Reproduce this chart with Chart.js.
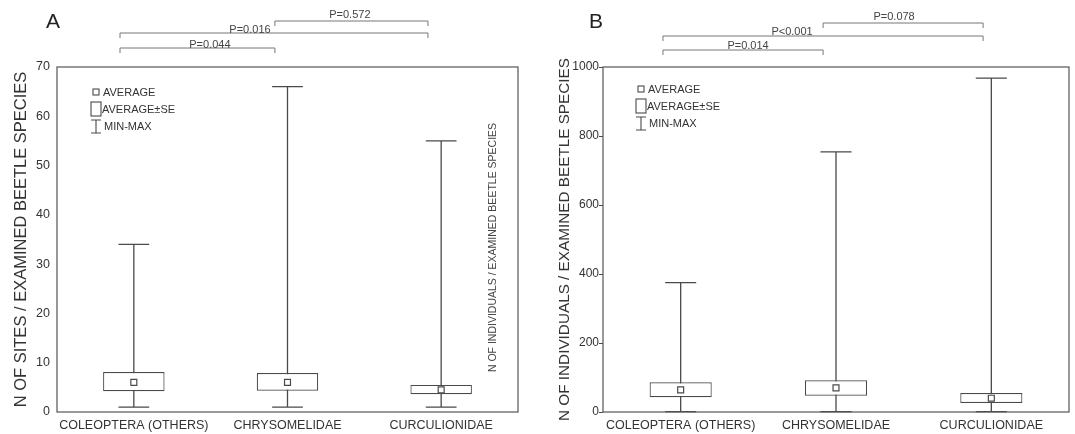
<!DOCTYPE html>
<html>
<head>
<meta charset="utf-8">
<script src="https://cdn.jsdelivr.net/npm/chart.js@4.4.0/dist/chart.umd.min.js"></script>
<style>
  html, body { margin: 0; padding: 0; background: #fff; }
  #wrap { position: relative; width: 1075px; height: 434px; }
  .panel { position: absolute; top: 0; height: 434px; }
  #panelA { left: 0; width: 540px; }
  #panelB { left: 540px; width: 535px; }
</style>
</head>
<body>
<div id="wrap">
  <div class="panel" id="panelA"><canvas id="chartA"></canvas></div>
  <div class="panel" id="panelB"><canvas id="chartB"></canvas></div>
</div>
<script>
const categories = ["COLEOPTERA (OTHERS)", "CHRYSOMELIDAE", "CURCULIONIDAE"];

// A: N of sites / examined beetle species
const sitesMean = [6.0, 6.0, 4.5];
const sitesSeLow = [4.2, 4.3, 3.6];
const sitesSeHigh = [8.1, 7.9, 5.5];
const sitesMin = [1, 1, 1];
const sitesMax = [34, 66, 55];
const sitesPLabels = ["P=0.044", "P=0.016", "P=0.572"];

// B: N of individuals / examined beetle species
const indivMean = [64, 70, 40];
const indivSeLow = [43, 47, 26];
const indivSeHigh = [86, 92, 55];
const indivMin = [1, 1, 1];
const indivMax = [375, 754, 968];
const indivPLabels = ["P=0.014", "P<0.001", "P=0.078"];

const lineColor = "#4a4a4a";
const textColor = "#333";
const fontFamily = "'Liberation Sans', Arial, sans-serif";

Chart.defaults.font.family = fontFamily;
Chart.defaults.color = textColor;

// whiskers, frame, legend, brackets
const boxDecor = {
  id: "boxDecor",
  beforeDatasetsDraw(chart, args, opts) {
    const ctx = chart.ctx;
    const x = chart.scales.x;
    const y = chart.scales.y;
    const capHalf = x.width / 3 * 0.1;
    ctx.save();
    ctx.strokeStyle = lineColor;
    ctx.lineWidth = 1.3;
    opts.min.forEach((lo, i) => {
      const px = x.getPixelForValue(i);
      const yLo = y.getPixelForValue(lo);
      const yHi = y.getPixelForValue(opts.max[i]);
      ctx.beginPath();
      ctx.moveTo(px, yLo);
      ctx.lineTo(px, yHi);
      ctx.moveTo(px - capHalf, yHi);
      ctx.lineTo(px + capHalf, yHi);
      ctx.moveTo(px - capHalf, yLo);
      ctx.lineTo(px + capHalf, yLo);
      ctx.stroke();
    });
    ctx.restore();
  },
  afterDraw(chart, args, opts) {
    const ctx = chart.ctx;
    const area = chart.chartArea;
    const x = chart.scales.x;
    ctx.save();

    // frame
    ctx.strokeStyle = "#555";
    ctx.lineWidth = 1.2;
    ctx.strokeRect(area.left, area.top, area.right - area.left, area.bottom - area.top);

    // panel letter
    ctx.fillStyle = "#222";
    ctx.font = "21px " + fontFamily;
    ctx.textBaseline = "alphabetic";
    ctx.textAlign = "left";
    ctx.fillText(opts.letter, opts.letterX, opts.letterY);

    // legend
    const lx = area.left + opts.legendDx;
    const ly = area.top + opts.legendDy;
    ctx.strokeStyle = lineColor;
    ctx.lineWidth = 1.1;
    ctx.fillStyle = "#fff";
    ctx.fillRect(lx - 3, ly - 3, 6, 6);
    ctx.strokeRect(lx - 3, ly - 3, 6, 6);
    ctx.strokeRect(lx - 5, ly + 10, 10, 14);
    ctx.beginPath();
    ctx.moveTo(lx, ly + 28);
    ctx.lineTo(lx, ly + 41);
    ctx.moveTo(lx - 5, ly + 28);
    ctx.lineTo(lx + 5, ly + 28);
    ctx.moveTo(lx - 5, ly + 41);
    ctx.lineTo(lx + 5, ly + 41);
    ctx.stroke();
    ctx.fillStyle = textColor;
    ctx.font = "11px " + fontFamily;
    ctx.textBaseline = "middle";
    ctx.fillText("AVERAGE", lx + 7, ly + 0.5);
    ctx.fillText("AVERAGE\u00b1SE", lx + 6, ly + 18);
    ctx.fillText("MIN-MAX", lx + 8, ly + 35);

    // significance brackets
    opts.brackets.forEach((b) => {
      const x1 = x.getPixelForValue(b.from);
      const x2 = x.getPixelForValue(b.to);
      ctx.strokeStyle = "#777";
      ctx.lineWidth = 1;
      ctx.beginPath();
      ctx.moveTo(x1, b.y + 5);
      ctx.lineTo(x1, b.y);
      ctx.lineTo(x2, b.y);
      ctx.lineTo(x2, b.y + 5);
      ctx.stroke();
      ctx.fillStyle = "#444";
      ctx.font = "11px " + fontFamily;
      ctx.textAlign = "center";
      ctx.textBaseline = "alphabetic";
      ctx.fillText(b.label, x.getPixelForValue(b.labelAt), b.textY);
    });

    // stray rotated caption inside panel A
    if (opts.caption) {
      ctx.translate(area.right - 25, (area.top + area.bottom) / 2 + 8);
      ctx.rotate(-Math.PI / 2);
      ctx.fillStyle = "#444";
      ctx.font = "10.5px " + fontFamily;
      ctx.textAlign = "center";
      ctx.textBaseline = "middle";
      ctx.fillText(opts.caption, 0, 0);
    }
    ctx.restore();
  },
};

function makeChart(canvasId, cfg) {
  return new Chart(document.getElementById(canvasId), {
    type: "bar",
    data: {
      labels: categories,
      datasets: [
        {
          type: "line",
          data: cfg.mean,
          showLine: false,
          pointStyle: "rect",
          pointRadius: 4.2,
          pointBackgroundColor: "#fff",
          pointBorderColor: lineColor,
          pointBorderWidth: 1.2,
          order: 0,
        },
        {
          data: cfg.seLow.map((lo, i) => [lo, cfg.seHigh[i]]),
          backgroundColor: "#fff",
          borderColor: lineColor,
          borderWidth: 1.2,
          borderSkipped: false,
          barPercentage: 0.4,
          categoryPercentage: 1.0,
          order: 1,
        },
      ],
    },
    options: {
      responsive: true,
      maintainAspectRatio: false,
      animation: false,
      layout: { padding: { top: 67, right: cfg.padRight, left: 0, bottom: 0 } },
      scales: {
        x: {
          grid: { display: false, drawTicks: false },
          border: { display: false },
          ticks: { color: textColor, font: { size: 12.5 }, padding: 6, maxRotation: 0, autoSkip: false },
          afterFit(s) { s.height = 22; },
        },
        y: {
          min: 0,
          max: cfg.yMax,
          grid: cfg.yGrid,
          border: { display: false },
          ticks: {
            stepSize: cfg.yStep,
            color: textColor,
            font: { size: cfg.tickSize },
            padding: cfg.tickPad,
            callback: (v) => String(v),
          },
          title: {
            display: true,
            text: cfg.yTitle,
            color: textColor,
            font: { size: cfg.titleSize },
            padding: { top: cfg.titlePad, bottom: 0 },
          },
          afterFit(s) { s.width = cfg.yWidth; },
        },
      },
      plugins: {
        legend: { display: false },
        tooltip: { enabled: false },
        boxDecor: {
          min: cfg.min,
          max: cfg.max,
          letter: cfg.letter,
          letterX: cfg.letterX,
          letterY: 28,
          legendDx: cfg.legendDx,
          legendDy: cfg.legendDy,
          brackets: cfg.brackets,
          caption: cfg.caption,
        },
      },
    },
    plugins: [boxDecor],
  });
}

makeChart("chartA", {
  mean: sitesMean, seLow: sitesSeLow, seHigh: sitesSeHigh, min: sitesMin, max: sitesMax,
  yMax: 70, yStep: 10, yWidth: 57, padRight: 22, tickPad: 7, tickSize: 12.5, titlePad: 12, titleSize: 16.5,
  yGrid: { display: false, drawTicks: false },
  yTitle: "N OF SITES / EXAMINED BEETLE SPECIES",
  letter: "A", letterX: 46, legendDx: 39, legendDy: 25,
  caption: "N OF INDIVIDUALS / EXAMINED BEETLE SPECIES",
  brackets: [
    { from: -0.09, to: 0.918, y: 48, label: sitesPLabels[0], labelAt: 0.495, textY: 47.5 },
    { from: -0.09, to: 1.914, y: 33, label: sitesPLabels[1], labelAt: 0.756, textY: 33 },
    { from: 0.918, to: 1.914, y: 21, label: sitesPLabels[2], labelAt: 1.406, textY: 17.5 },
  ],
});

makeChart("chartB", {
  mean: indivMean, seLow: indivSeLow, seHigh: indivSeHigh, min: indivMin, max: indivMax,
  yMax: 1000, yStep: 200, yWidth: 63, padRight: 6, tickPad: 0, tickSize: 12, titlePad: 16, titleSize: 15.3,
  yGrid: { display: true, drawOnChartArea: false, drawTicks: true, tickLength: 4, color: lineColor },
  yTitle: "N OF INDIVIDUALS / EXAMINED BEETLE SPECIES",
  letter: "B", letterX: 49, legendDx: 38, legendDy: 22,
  caption: null,
  brackets: [
    { from: -0.114, to: 0.917, y: 50, label: indivPLabels[0], labelAt: 0.434, textY: 48.5 },
    { from: -0.114, to: 1.947, y: 36, label: indivPLabels[1], labelAt: 0.717, textY: 34.5 },
    { from: 0.917, to: 1.947, y: 23, label: indivPLabels[2], labelAt: 1.374, textY: 19.5 },
  ],
});
</script>
</body>
</html>
